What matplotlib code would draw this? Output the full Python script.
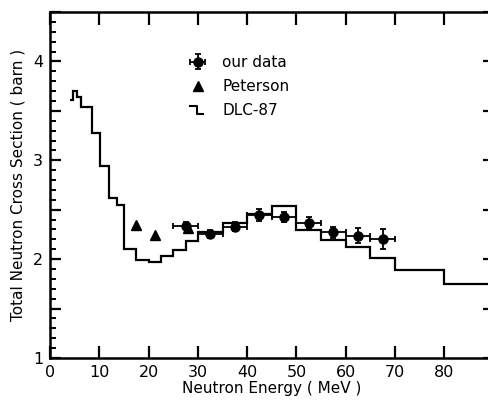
import numpy as np
import matplotlib
matplotlib.use('Agg')
import matplotlib.pyplot as plt
from matplotlib.lines import Line2D
from matplotlib.ticker import MultipleLocator, FuncFormatter

plt.rcParams['font.family'] = 'DejaVu Sans'

# DLC-87 evaluated cross section (histogram)
DLC_EDGES = [4.1, 4.7, 5.5, 6.2, 8.5, 10.1, 12.0, 13.6, 15.0, 17.5, 20.0, 22.5,
             25.0, 27.5, 30.0, 35.0, 40.0, 45.0, 50.0, 55.0, 60.0, 65.0, 70.0,
             80.0, 90.0]
DLC_VALUES = [3.61, 3.70, 3.64, 3.54, 3.28, 2.94, 2.62, 2.55, 2.10, 1.99, 1.975,
              2.03, 2.09, 2.18, 2.27, 2.37, 2.46, 2.54, 2.29, 2.195, 2.12, 2.015,
              1.89, 1.75]

# our data
OUR_E = [27.5, 32.5, 37.5, 42.5, 47.5, 52.5, 57.5, 62.5, 67.5]
OUR_XS = [2.34, 2.25, 2.33, 2.45, 2.43, 2.37, 2.27, 2.235, 2.20]
OUR_XERR = [2.5, 2.5, 2.5, 2.5, 2.5, 2.5, 2.5, 2.5, 2.5]
OUR_YERR = [0.04, 0.04, 0.05, 0.06, 0.05, 0.06, 0.055, 0.075, 0.10]

# Peterson
PET_E = [17.4, 21.4, 28.0]
PET_XS = [2.35, 2.24, 2.31]


class StepHandler:
    def legend_artist(self, legend, orig_handle, fontsize, handlebox):
        x0, y0 = handlebox.xdescent, handlebox.ydescent
        w, h = handlebox.width, handlebox.height
        line = Line2D([x0 + 0.1*w, x0 + 0.45*w, x0 + 0.45*w, x0 + 0.8*w],
                      [y0 + 0.9*h, y0 + 0.9*h, y0 + 0.1*h, y0 + 0.1*h],
                      color='black', lw=1.5, transform=handlebox.get_transform())
        handlebox.add_artist(line)
        return line


fig = plt.figure(figsize=(4.88, 4.0), dpi=100)
ax = fig.add_axes([0.1025, 0.105, 0.909, 0.865])

ax.stairs(DLC_VALUES, DLC_EDGES, baseline=None, color='black', lw=1.6)
eb = ax.errorbar(OUR_E, OUR_XS, xerr=OUR_XERR, yerr=OUR_YERR, fmt='o',
                 color='black', ms=6.5, elinewidth=1.3, capsize=2.5, capthick=1.3)
pet, = ax.plot(PET_E, PET_XS, '^', color='black', ms=6.5, lw=0)
dlc = Line2D([], [], color='black')

ax.set_xlim(0, 90)
ax.set_ylim(1, 4.5)

ax.xaxis.set_major_locator(MultipleLocator(10))
ax.yaxis.set_major_locator(MultipleLocator(0.5))
ax.yaxis.set_minor_locator(MultipleLocator(0.1))
ax.xaxis.set_major_formatter(FuncFormatter(lambda v, p: '%d' % v if v < 85 else ''))
ax.yaxis.set_major_formatter(FuncFormatter(lambda v, p: '%d' % v if abs(v - round(v)) < 1e-6 else ''))

ax.tick_params(axis='x', which='major', direction='in', length=9, width=1.6,
               top=True, labelsize=11.5, pad=5)
ax.tick_params(axis='y', which='major', direction='in', length=8, width=1.6,
               right=True, labelsize=11.5, pad=5)
ax.tick_params(axis='y', which='minor', direction='in', length=4.5, width=1.4,
               right=False)

for s in ax.spines.values():
    s.set_linewidth(1.8)

ax.set_xlabel('Neutron Energy ( MeV )', fontsize=11, labelpad=1)
ax.set_ylabel('Total Neutron Cross Section ( barn )', fontsize=11, labelpad=5)

ax.legend([eb, pet, dlc], ['our data', 'Peterson', 'DLC-87'],
          handler_map={dlc: StepHandler()},
          loc='upper left', bbox_to_anchor=(0.311, 0.876), frameon=False,
          fontsize=11, handlelength=1.25, handletextpad=1.0, labelspacing=0.6,
          borderpad=0, borderaxespad=0)

fig.savefig('out.png', dpi=100)
